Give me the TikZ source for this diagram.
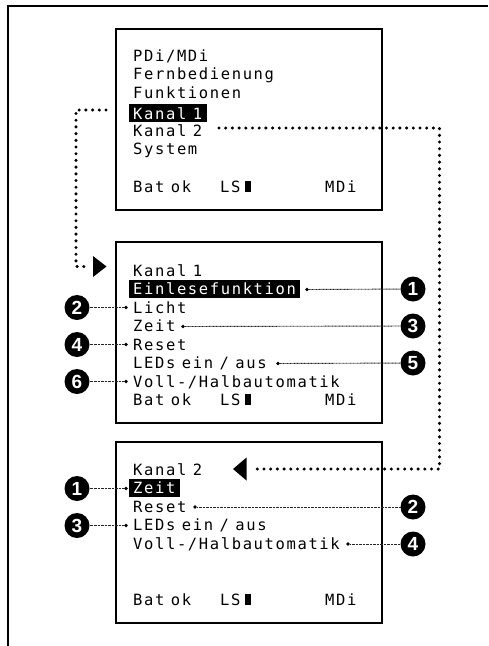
\documentclass[tikz,border=0pt]{standalone}
\usepackage{fontspec}
\newfontfamily\lcdfont[LetterSpace=10.5]{DejaVu Sans Mono}
\newfontfamily\numfont{Liberation Sans}
\newcommand\gp{\hspace*{6.5pt}}
\begin{document}
\begin{tikzpicture}[x=1pt,y=-1pt,
  screen/.style={draw, line width=2.3pt, minimum width=266pt, minimum height=181pt, inner sep=0pt},
  lcd/.style={font=\lcdfont\fontsize{15.5}{17}\selectfont, inner sep=0pt, anchor=base west},
  hl/.style={lcd, fill=black, text=white, inner xsep=4.5pt, inner ysep=3pt},
  num/.style={circle, fill=black, minimum size=25pt, inner sep=0pt, text=white, font=\numfont\bfseries\fontsize{19}{19}\selectfont},
  dot/.style={circle, fill=black, minimum size=3.8pt, inner sep=0pt},
  lead/.style={line width=0.9pt, black!85, dash pattern=on 0.9pt off 0.5pt},
  route/.style={line width=3.4pt, line cap=round, dash pattern=on 0pt off 6.7pt},
  lsblock/.style={fill=black, minimum width=6.5pt, minimum height=11.5pt, inner sep=0pt, anchor=south west}
]
\useasboundingbox (0,0) rectangle (488,646);
% outer frame (top and left edges)
\draw[line width=2pt] (8,646) -- (8,6) -- (488,6);

% screens
\node[screen] (s1) at (249,119.5) {};
\node[screen] (s2) at (249,332.5) {};
\node[screen] (s3) at (249,532.5) {};

% screen 1
\node[lcd] (a1) at (133,61.2) {PDi/MDi};
\node[lcd] (a2) at (133,79.8) {Fernbedienung};
\node[lcd] (a3) at (133,98.2) {Funktionen};
\node[hl]  (a4) at (128.5,119.2) {Kanal\gp1};
\node[lcd] (a5) at (133,136.2) {Kanal\gp2};
\node[lcd] (a6) at (133,154.7) {System};
\node[lcd] (a7) at (133,192.5) {Bat\gp ok};
\node[lcd] (a8) at (220,192.5) {LS};
\node[lsblock] (a9) at (244.5,192.5) {};
\node[lcd] (a10) at (325,192.5) {MDi};

% screen 2
\node[lcd] (b1) at (133,276) {Kanal\gp1};
\node[hl]  (b2) at (128.5,294.5) {Einlesefunktion};
\node[lcd] (b3) at (133,313) {Licht};
\node[lcd] (b4) at (133,331.5) {Zeit};
\node[lcd] (b5) at (133,350) {Reset};
\node[lcd] (b6) at (133,368.5) {LEDs\gp ein\gp /\gp aus};
\node[lcd] (b7) at (133,387) {Voll-/Halbautomatik};
\node[lcd] (b8) at (133,405.5) {Bat\gp ok};
\node[lcd] (b9) at (220,405.5) {LS};
\node[lsblock] (b10) at (244.5,405.5) {};
\node[lcd] (b11) at (325,405.5) {MDi};

% screen 3
\node[lcd] (c1) at (133,475.3) {Kanal\gp2};
\node[hl]  (c2) at (128.5,493.8) {Zeit};
\node[lcd] (c3) at (133,512.3) {Reset};
\node[lcd] (c4) at (133,530.8) {LEDs\gp ein\gp /\gp aus};
\node[lcd] (c5) at (133,549.3) {Voll-/Halbautomatik};
\node[lcd] (c6) at (133,605.3) {Bat\gp ok};
\node[lcd] (c7) at (220,605.3) {LS};
\node[lsblock] (c8) at (244.5,605.3) {};
\node[lcd] (c9) at (325,605.3) {MDi};

% numbered callouts, screen 2
\node[num] (n21) at (413,289) {1};
\node[num] (n22) at (77,307.5) {2};
\node[num] (n23) at (413,326) {3};
\node[num] (n24) at (77,344.5) {4};
\node[num] (n25) at (413,363) {5};
\node[num] (n26) at (77,381.5) {6};
\node[dot] (d21) at (307,289.5) {};
\node[dot] (d22) at (126,307.5) {};
\node[dot] (d23) at (183,326.5) {};
\node[dot] (d24) at (126,344.5) {};
\node[dot] (d25) at (278,363.5) {};
\node[dot] (d26) at (126,381.5) {};
\draw[lead] (d21) -- (n21);
\draw[lead] (d22) -- (n22);
\draw[lead] (d23) -- (n23);
\draw[lead] (d24) -- (n24);
\draw[lead] (d25) -- (n25);
\draw[lead] (d26) -- (n26);

% numbered callouts, screen 3
\node[num] (n31) at (77,488.5) {1};
\node[num] (n32) at (413,507) {2};
\node[num] (n33) at (77,525.5) {3};
\node[num] (n34) at (413,544) {4};
\node[dot] (d31) at (126,488.5) {};
\node[dot] (d32) at (195,507) {};
\node[dot] (d33) at (126,525.5) {};
\node[dot] (d34) at (348,544) {};
\draw[lead] (d31) -- (n31);
\draw[lead] (d32) -- (n32);
\draw[lead] (d33) -- (n33);
\draw[lead] (d34) -- (n34);

% route Kanal 1 -> screen 2
\coordinate (r1s) at (106,110);
\coordinate (r1a) at (76,110);
\coordinate (r1b) at (76,266.5);
\coordinate (r1e) at (87,266.5);
\draw[route] (r1s) -- (r1a) -- (r1b) -- (r1e);
\fill (93,256) -- (106.5,266.5) -- (93,277) -- cycle;

% route Kanal 2 -> screen 3
\coordinate (r2s) at (219,128);
\coordinate (r2a) at (439.5,128);
\coordinate (r2b) at (439.5,469);
\coordinate (r2e) at (252,469);
\draw[route] (r2s) -- (r2a) -- (r2b) -- (r2e);
\fill (246.5,457.5) -- (233,469) -- (246.5,480.5) -- cycle;
\end{tikzpicture}
\end{document}
